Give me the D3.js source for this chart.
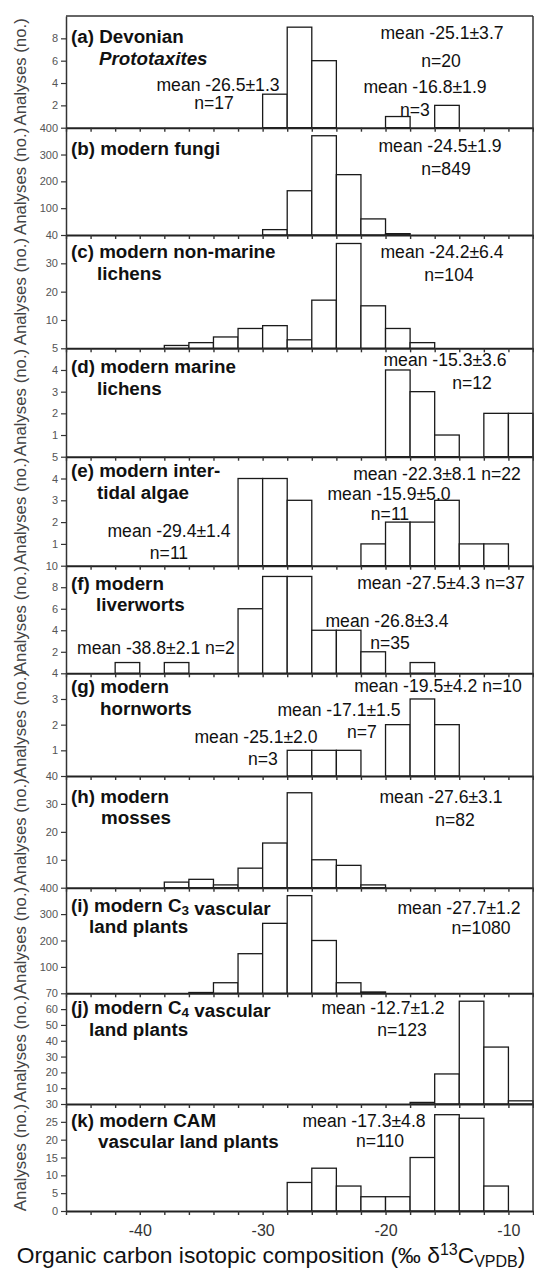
<!DOCTYPE html>
<html>
<head>
<meta charset="utf-8">
<script src="https://cdn.jsdelivr.net/npm/d3@7/dist/d3.min.js"></script>
<style>
  body { margin: 0; background: #fff; }
  svg { display: block; font-family: "Liberation Sans", Arial, Helvetica, sans-serif; }
</style>
</head>
<body>
<div id="chart"></div>
<script>
// --- Data: histogram bins (start of each 2 per mil bin) ---
const binStarts = [-46, -44, -42, -40, -38, -36, -34, -32, -30, -28, -26, -24, -22, -20, -18, -16, -14, -12, -10];
const binWidth = 2;

const panelIds = ['a', 'b', 'c', 'd', 'e', 'f', 'g', 'h', 'i', 'j', 'k'];

// counts per bin, one list per panel
const countsA = [0, 0, 0, 0, 0, 0, 0, 0, 3, 9, 6, 0, 0, 1, 0, 2, 0, 0, 0];
const countsB = [0, 0, 0, 0, 0, 0, 0, 0, 20, 165, 370, 225, 60, 5, 0, 0, 0, 0, 0];
const countsC = [0, 0, 0, 0, 1, 2, 4, 7, 8, 3, 17, 37, 15, 7, 2, 0, 0, 0, 0];
const countsD = [0, 0, 0, 0, 0, 0, 0, 0, 0, 0, 0, 0, 0, 4, 3, 1, 0, 2, 2];
const countsE = [0, 0, 0, 0, 0, 0, 0, 4, 4, 3, 0, 0, 1, 2, 2, 3, 1, 1, 0];
const countsF = [0, 0, 1, 0, 1, 0, 0, 6, 9, 9, 4, 4, 2, 0, 1, 0, 0, 0, 0];
const countsG = [0, 0, 0, 0, 0, 0, 0, 0, 0, 1, 1, 1, 0, 2, 3, 2, 0, 0, 0];
const countsH = [0, 0, 0, 0, 2, 3, 1, 7, 16, 34, 10, 8, 1, 0, 0, 0, 0, 0, 0];
const countsI = [0, 0, 0, 0, 0, 3, 40, 150, 265, 370, 200, 40, 5, 0, 0, 0, 0, 0, 0];
const countsJ = [0, 0, 0, 0, 0, 0, 0, 0, 0, 0, 0, 0, 0, 0, 1, 19, 65, 36, 2];
const countsK = [0, 0, 0, 0, 0, 0, 0, 0, 0, 8, 12, 7, 4, 4, 15, 27, 26, 7, 0];
const allCounts = [countsA, countsB, countsC, countsD, countsE, countsF, countsG, countsH, countsI, countsJ, countsK];

// y axis maximum and tick labels shown per panel
const yMax = [10, 400, 40, 5, 5, 10, 4, 40, 400, 70, 30];
const yTicks = [
  [2, 4, 6, 8],
  [100, 200, 300, 400],
  [10, 20, 30, 40],
  [1, 2, 3, 4, 5],
  [1, 2, 3, 4, 5],
  [2, 4, 6, 8, 10],
  [1, 2, 3, 4],
  [10, 20, 30, 40],
  [100, 200, 300, 400],
  [10, 20, 30, 40, 50, 60, 70],
  [0, 5, 10, 15, 20, 25, 30]
];
const xTickMarks = [-46, -44, -42, -40, -38, -36, -34, -32, -30, -28, -26, -24, -22, -20, -18, -16, -14, -12, -10, -8];
const xTickLabels = [-40, -30, -20, -10];

// panel titles ("_3" = subscript, "*" = italic line)
const titleLine1 = ['(a) Devonian', '(b) modern fungi', '(c) modern non-marine', '(d) modern marine',
  '(e) modern inter-', '(f) modern', '(g) modern', '(h) modern', '(i) modern C_3 vascular',
  '(j) modern C_4 vascular', '(k) modern CAM'];
const titleLine2 = ['*Prototaxites', '', 'lichens', 'lichens', 'tidal algae', 'liverworts', 'hornworts',
  'mosses', 'land plants', 'land plants', 'vascular land plants'];

// statistics text per panel
const statTexts = [
  ['mean -25.1±3.7', 'n=20', 'mean -26.5±1.3', 'n=17', 'mean -16.8±1.9', 'n=3'],
  ['mean -24.5±1.9', 'n=849'],
  ['mean -24.2±6.4', 'n=104'],
  ['mean -15.3±3.6', 'n=12'],
  ['mean -22.3±8.1 n=22', 'mean -15.9±5.0', 'n=11', 'mean -29.4±1.4', 'n=11'],
  ['mean -27.5±4.3 n=37', 'mean -26.8±3.4', 'n=35', 'mean -38.8±2.1 n=2'],
  ['mean -19.5±4.2 n=10', 'mean -17.1±1.5', 'n=7', 'mean -25.1±2.0', 'n=3'],
  ['mean -27.6±3.1', 'n=82'],
  ['mean -27.7±1.2', 'n=1080'],
  ['mean -12.7±1.2', 'n=123'],
  ['mean -17.3±4.8', 'n=110']
];

// --- Layout ---
const width = 534, height = 1270;
const plotLeft = 66, plotRight = 533;
const panelEdges = [16, 127.7, 235, 348.3, 456.7, 565.7, 673.3, 776, 887.7, 993.3, 1104, 1211];
const titleX = 71;
const titleSize = 18.8, statSize = 17.6;
const title2X = [99, 0, 97, 97, 97, 96, 100, 101, 89, 89, 98];
const titleDy = [[27, 49], [27, 0], [23, 45], [25, 47], [20, 42], [24, 45], [20, 42], [27, 48], [24, 45], [21, 43], [23, 44]];
// [centre x px, baseline offset from panel top]
const statPos = [
  [[442, 23], [441, 51], [218, 75], [214, 93], [425, 77], [415, 100]],
  [[440, 24], [446, 47]],
  [[442, 23], [449, 46]],
  [[445, 18], [472, 41]],
  [[437, 23], [389, 43], [390, 63], [169, 80], [169, 102]],
  [[441, 23], [387, 61], [390, 83], [156, 88]],
  [[438, 19], [339, 43], [362, 65], [256, 70], [263, 92]],
  [[441, 27], [455, 50]],
  [[459, 26], [481, 46]],
  [[383, 21], [402, 43]],
  [[364, 23], [380, 43]]
];

const svg = d3.select('#chart').append('svg')
  .attr('width', width)
  .attr('height', height);

const x = d3.scaleLinear().domain([-46, -8]).range([plotLeft, plotRight]);

function addSegments(textSel, str, size) {
  // split "C_3" style subscripts into tspans
  const parts = str.split(/_(\d)/);
  parts.forEach((p, k) => {
    if (k % 2 === 1) {
      textSel.append('tspan').attr('dy', 3).attr('font-size', size * 0.72).text(p);
      textSel.append('tspan').attr('dy', -3).text('');
    } else if (p) {
      textSel.append('tspan').text(p);
    }
  });
}

panelIds.forEach((id, i) => {
  const top = panelEdges[i], bottom = panelEdges[i + 1];
  const y = d3.scaleLinear().domain([0, yMax[i]]).range([bottom, top]);
  const g = svg.append('g').attr('class', 'panel panel-' + id);

  // bars
  const bins = binStarts.map((s, j) => ({ s, c: allCounts[i][j] })).filter(d => d.c > 0);
  g.selectAll('rect.bar')
    .data(bins)
    .join('rect')
    .attr('class', 'bar')
    .attr('x', d => x(d.s))
    .attr('width', d => x(d.s + binWidth) - x(d.s))
    .attr('y', d => y(d.c))
    .attr('height', d => y(0) - y(d.c))
    .attr('fill', '#fff')
    .attr('stroke', '#1a1a1a')
    .attr('stroke-width', 1.3);

  // title
  const t1 = g.append('text')
    .attr('x', titleX).attr('y', top + titleDy[i][0])
    .attr('font-size', titleSize).attr('font-weight', 'bold').attr('fill', '#111');
  addSegments(t1, titleLine1[i], titleSize);
  if (titleLine2[i]) {
    const italic = titleLine2[i].startsWith('*');
    g.append('text')
      .attr('x', title2X[i]).attr('y', top + titleDy[i][1])
      .attr('font-size', titleSize).attr('font-weight', 'bold')
      .attr('font-style', italic ? 'italic' : 'normal')
      .attr('fill', '#111')
      .text(titleLine2[i].replace('*', ''));
  }

  // statistics
  g.selectAll('text.stat')
    .data(statTexts[i])
    .join('text')
    .attr('class', 'stat')
    .attr('x', (d, k) => statPos[i][k][0])
    .attr('y', (d, k) => top + statPos[i][k][1])
    .attr('text-anchor', 'middle')
    .attr('font-size', statSize)
    .attr('fill', '#111')
    .text(d => d);

  // y axis
  const ya = g.append('g')
    .attr('transform', `translate(${plotLeft},0)`)
    .call(d3.axisLeft(y).tickValues(yTicks[i]).tickFormat(d3.format('d'))
      .tickSize(5).tickSizeOuter(0).tickPadding(3));
  ya.select('.domain').attr('stroke', '#333').attr('stroke-width', 1.5);
  ya.selectAll('.tick line').attr('stroke', '#333').attr('stroke-width', 1.2);
  ya.selectAll('.tick text').attr('fill', '#555').attr('font-size', 11)
    .attr('font-family', '"Liberation Sans", Arial, sans-serif');

  // y title
  g.append('text')
    .attr('transform', `translate(26,${(top + bottom) / 2}) rotate(-90)`)
    .attr('text-anchor', 'middle')
    .attr('font-size', 16.8)
    .attr('fill', '#444')
    .text('Analyses (no.)');
});

// x axes drawn last so the thick baselines sit on top
panelIds.forEach((id, i) => {
  const last = i === panelIds.length - 1;
  const xa = svg.append('g')
    .attr('transform', `translate(0,${panelEdges[i + 1]})`)
    .call(d3.axisBottom(x).tickValues(xTickMarks).tickSize(4).tickSizeOuter(0).tickPadding(10)
      .tickFormat(d => (last && xTickLabels.includes(d)) ? d : ''));
  xa.select('.domain').attr('stroke', '#222').attr('stroke-width', 2);
  xa.selectAll('.tick line').attr('stroke', '#333').attr('stroke-width', 1.4);
  xa.selectAll('.tick text').attr('fill', '#333').attr('font-size', 16)
    .attr('font-family', '"Liberation Sans", Arial, sans-serif');
});

// frame: top and right edges
svg.append('line')
  .attr('x1', plotLeft).attr('x2', plotRight)
  .attr('y1', panelEdges[0]).attr('y2', panelEdges[0])
  .attr('stroke', '#333').attr('stroke-width', 1.5);
svg.append('line')
  .attr('x1', plotRight).attr('x2', plotRight)
  .attr('y1', panelEdges[0]).attr('y2', panelEdges[panelEdges.length - 1])
  .attr('stroke', '#333').attr('stroke-width', 1.5);

// x axis title
const xt = svg.append('text')
  .attr('x', 271).attr('y', 1263)
  .attr('text-anchor', 'middle')
  .attr('font-size', 22.8)
  .attr('fill', '#111');
xt.append('tspan').text('Organic carbon isotopic composition (‰ δ');
xt.append('tspan').attr('font-size', 16).attr('dy', -8).text('13');
xt.append('tspan').attr('dy', 8).text('C');
xt.append('tspan').attr('font-size', 16).attr('dy', 4).text('VPDB');
xt.append('tspan').attr('dy', -4).text(')');
</script>
</body>
</html>
